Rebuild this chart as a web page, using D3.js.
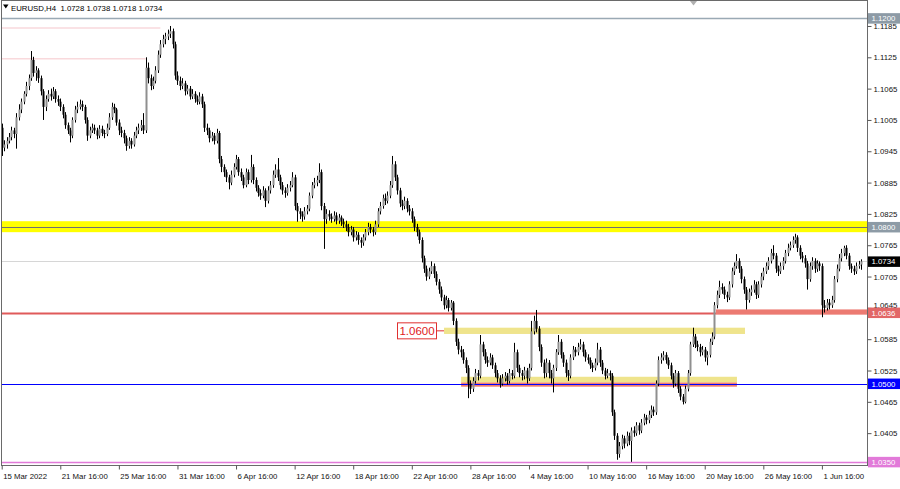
<!DOCTYPE html>
<html><head><meta charset="utf-8">
<script src="https://cdn.jsdelivr.net/npm/d3@7"></script>
<style>
html,body{margin:0;padding:0;background:#fff;}
svg{display:block;font-family:"Liberation Sans",Arial,sans-serif;}
</style></head><body>
<svg id="c" width="900" height="489"></svg>
<script>
// ---- DATA (EURUSD H4) ----
const title = "EURUSD,H4  1.0728 1.0738 1.0718 1.0734";
const open = [1.0990,1.0952,1.0958,1.0965,1.0972,1.0985,1.0978,1.1010,1.1025,1.1040,
1.1055,1.1070,1.1085,1.1120,1.1095,1.1100,1.1085,1.1060,1.1030,1.1045,
1.1055,1.1050,1.1060,1.1045,1.1040,1.1030,1.1015,1.0995,1.0985,1.0975,
1.1005,1.1025,1.1030,1.1035,1.1030,1.1005,1.0975,1.0985,1.0990,1.0985,
1.0975,1.0988,1.0980,1.0978,1.0990,1.1010,1.1030,1.1025,1.1000,1.0985,
1.0980,1.0970,1.0955,1.0965,1.0958,1.0975,1.0985,1.0990,1.0995,1.0985,
1.1105,1.1085,1.1070,1.1080,1.1100,1.1130,1.1150,1.1160,1.1165,1.1170,
1.1175,1.1150,1.1090,1.1080,1.1070,1.1075,1.1060,1.1065,1.1050,1.1055,
1.1045,1.1040,1.1050,1.1035,1.0990,1.0985,1.0970,1.0975,1.0965,1.0980,
1.0930,1.0915,1.0905,1.0895,1.0885,1.0900,1.0915,1.0930,1.0905,1.0895,
1.0880,1.0905,1.0890,1.0915,1.0890,1.0875,1.0865,1.0860,1.0870,1.0850,
1.0870,1.0880,1.0900,1.0910,1.0895,1.0880,1.0870,1.0865,1.0875,1.0880,
1.0895,1.0840,1.0830,1.0825,1.0820,1.0830,1.0835,1.0860,1.0880,1.0885,
1.0890,1.0905,1.0840,1.0815,1.0825,1.0820,1.0815,1.0822,1.0812,1.0818,
1.0810,1.0805,1.0800,1.0790,1.0795,1.0780,1.0785,1.0775,1.0770,1.0780,
1.0790,1.0800,1.0795,1.0790,1.0805,1.0830,1.0840,1.0855,1.0850,1.0860,
1.0880,1.0920,1.0895,1.0870,1.0845,1.0840,1.0850,1.0835,1.0830,1.0815,
1.0800,1.0790,1.0775,1.0740,1.0720,1.0705,1.0715,1.0725,1.0710,1.0695,
1.0680,1.0665,1.0650,1.0660,1.0645,1.0655,1.0620,1.0580,1.0565,1.0560,
1.0545,1.0530,1.0500,1.0490,1.0505,1.0520,1.0515,1.0575,1.0560,1.0545,
1.0540,1.0550,1.0535,1.0520,1.0510,1.0500,1.0510,1.0515,1.0505,1.0520,
1.0515,1.0560,1.0530,1.0520,1.0515,1.0525,1.0510,1.0530,1.0600,1.0620,
1.0605,1.0570,1.0540,1.0520,1.0540,1.0520,1.0510,1.0530,1.0560,1.0580,
1.0555,1.0540,1.0520,1.0515,1.0550,1.0565,1.0560,1.0570,1.0575,1.0560,
1.0550,1.0545,1.0535,1.0530,1.0540,1.0565,1.0540,1.0525,1.0515,1.0520,
1.0515,1.0445,1.0400,1.0365,1.0380,1.0395,1.0385,1.0400,1.0390,1.0410,
1.0405,1.0420,1.0410,1.0425,1.0435,1.0430,1.0440,1.0450,1.0445,1.0500,
1.0545,1.0550,1.0555,1.0545,1.0535,1.0515,1.0500,1.0520,1.0490,1.0475,
1.0465,1.0490,1.0520,1.0575,1.0590,1.0575,1.0570,1.0560,1.0565,1.0550,
1.0555,1.0580,1.0590,1.0650,1.0670,1.0685,1.0680,1.0670,1.0665,1.0690,
1.0715,1.0725,1.0735,1.0720,1.0700,1.0680,1.0660,1.0675,1.0680,1.0690,
1.0670,1.0690,1.0705,1.0715,1.0725,1.0735,1.0750,1.0745,1.0720,1.0715,
1.0725,1.0735,1.0750,1.0760,1.0765,1.0775,1.0780,1.0760,1.0745,1.0740,
1.0730,1.0700,1.0725,1.0735,1.0720,1.0730,1.0725,1.0650,1.0645,1.0655,
1.0650,1.0660,1.0700,1.0720,1.0740,1.0750,1.0760,1.0745,1.0725,1.0720,
1.0715,1.0725,1.0728];
const high = [1.0998,1.0966,1.0972,1.0980,1.0992,1.0990,1.1018,1.1035,1.1046,1.1060,
1.1078,1.1092,1.1137,1.1126,1.1108,1.1104,1.1090,1.1064,1.1052,1.1062,
1.1065,1.1068,1.1064,1.1052,1.1046,1.1035,1.1020,1.1000,1.0990,1.1010,
1.1032,1.1040,1.1044,1.1042,1.1034,1.1010,1.0992,1.0998,1.0996,1.0990,
1.0995,1.0994,1.0986,1.0998,1.1018,1.1038,1.1036,1.1028,1.1006,1.0992,
1.0986,1.0975,1.0972,1.0970,1.0982,1.0992,1.0998,1.1005,1.1018,1.1125,
1.1115,1.1092,1.1088,1.1108,1.1138,1.1158,1.1168,1.1172,1.1178,1.1185,
1.1180,1.1155,1.1098,1.1088,1.1085,1.1080,1.1072,1.1070,1.1064,1.1060,
1.1052,1.1058,1.1055,1.1040,1.0998,1.0990,1.0982,1.0980,1.0988,1.0984,
1.0936,1.0920,1.0910,1.0900,1.0908,1.0922,1.0938,1.0934,1.0912,1.0900,
1.0912,1.0910,1.0938,1.0920,1.0895,1.0880,1.0872,1.0878,1.0874,1.0878,
1.0888,1.0908,1.0920,1.0932,1.0900,1.0886,1.0876,1.0882,1.0888,1.0905,
1.0900,1.0846,1.0836,1.0830,1.0838,1.0842,1.0866,1.0886,1.0894,1.0898,
1.0922,1.0910,1.0846,1.0834,1.0832,1.0826,1.0830,1.0828,1.0825,1.0822,
1.0816,1.0812,1.0806,1.0802,1.0800,1.0792,1.0790,1.0780,1.0786,1.0796,
1.0808,1.0806,1.0800,1.0812,1.0836,1.0848,1.0862,1.0864,1.0868,1.0888,
1.0936,1.0926,1.0900,1.0875,1.0852,1.0858,1.0855,1.0842,1.0836,1.0820,
1.0806,1.0795,1.0780,1.0745,1.0726,1.0722,1.0734,1.0730,1.0715,1.0700,
1.0686,1.0670,1.0668,1.0664,1.0660,1.0658,1.0625,1.0586,1.0572,1.0566,
1.0550,1.0535,1.0506,1.0512,1.0528,1.0526,1.0593,1.0580,1.0566,1.0552,
1.0558,1.0555,1.0540,1.0526,1.0516,1.0518,1.0522,1.0520,1.0528,1.0526,
1.0578,1.0565,1.0536,1.0526,1.0532,1.0530,1.0538,1.0620,1.0630,1.0641,
1.0610,1.0575,1.0546,1.0548,1.0545,1.0526,1.0536,1.0566,1.0593,1.0585,
1.0560,1.0546,1.0526,1.0556,1.0572,1.0570,1.0578,1.0585,1.0580,1.0565,
1.0556,1.0550,1.0540,1.0548,1.0578,1.0570,1.0545,1.0530,1.0528,1.0525,
1.0520,1.0450,1.0405,1.0388,1.0402,1.0400,1.0408,1.0406,1.0416,1.0418,
1.0426,1.0425,1.0432,1.0442,1.0440,1.0448,1.0458,1.0456,1.0506,1.0552,
1.0558,1.0562,1.0560,1.0550,1.0540,1.0520,1.0526,1.0524,1.0495,1.0480,
1.0496,1.0526,1.0580,1.0607,1.0595,1.0582,1.0576,1.0572,1.0570,1.0562,
1.0586,1.0598,1.0656,1.0678,1.0697,1.0692,1.0686,1.0676,1.0696,1.0722,
1.0732,1.0748,1.0740,1.0725,1.0705,1.0685,1.0682,1.0688,1.0698,1.0695,
1.0696,1.0712,1.0722,1.0732,1.0742,1.0758,1.0765,1.0750,1.0726,1.0732,
1.0742,1.0756,1.0768,1.0772,1.0782,1.0787,1.0784,1.0765,1.0752,1.0746,
1.0735,1.0732,1.0742,1.0740,1.0736,1.0734,1.0730,1.0660,1.0662,1.0662,
1.0668,1.0706,1.0728,1.0748,1.0758,1.0764,1.0765,1.0750,1.0730,1.0726,
1.0732,1.0735,1.0738];
const low = [1.0936,1.0945,1.0950,1.0960,1.0966,1.0970,1.0950,1.1004,1.1018,1.1035,
1.1050,1.1062,1.1080,1.1088,1.1080,1.1076,1.1052,1.1005,1.1022,1.1040,
1.1042,1.1045,1.1038,1.1032,1.1022,1.1008,1.0988,1.0978,1.0962,1.0970,
1.1000,1.1018,1.1025,1.1022,1.0998,1.0965,1.0970,1.0980,1.0978,1.0968,
1.0970,1.0974,1.0970,1.0974,1.0986,1.1005,1.1018,1.0994,1.0976,1.0972,
1.0960,1.0946,1.0950,1.0950,1.0954,1.0970,1.0978,1.0984,1.0978,1.0980,
1.1075,1.1062,1.1064,1.1075,1.1095,1.1124,1.1144,1.1150,1.1158,1.1162,
1.1142,1.1082,1.1072,1.1062,1.1064,1.1052,1.1054,1.1044,1.1045,1.1038,
1.1034,1.1035,1.1028,1.0982,1.0976,1.0962,1.0964,1.0958,1.0960,1.0922,
1.0905,1.0896,1.0886,1.0872,1.0880,1.0895,1.0910,1.0898,1.0888,1.0874,
1.0876,1.0882,1.0885,1.0882,1.0868,1.0858,1.0852,1.0855,1.0838,1.0845,
1.0864,1.0875,1.0894,1.0888,1.0872,1.0862,1.0856,1.0860,1.0868,1.0876,
1.0832,1.0810,1.0815,1.0810,1.0814,1.0824,1.0830,1.0855,1.0874,1.0878,
1.0884,1.0832,1.0758,1.0806,1.0812,1.0808,1.0810,1.0805,1.0806,1.0802,
1.0798,1.0792,1.0782,1.0784,1.0772,1.0774,1.0766,1.0760,1.0764,1.0774,
1.0784,1.0788,1.0782,1.0785,1.0800,1.0824,1.0835,1.0842,1.0845,1.0855,
1.0875,1.0888,1.0862,1.0838,1.0832,1.0834,1.0828,1.0822,1.0808,1.0792,
1.0782,1.0768,1.0732,1.0712,1.0697,1.0700,1.0710,1.0702,1.0688,1.0672,
1.0658,1.0642,1.0644,1.0638,1.0640,1.0612,1.0572,1.0556,1.0550,1.0538,
1.0520,1.0472,1.0480,1.0484,1.0500,1.0506,1.0510,1.0552,1.0538,1.0532,
1.0535,1.0528,1.0512,1.0502,1.0492,1.0496,1.0504,1.0498,1.0500,1.0508,
1.0510,1.0522,1.0512,1.0506,1.0508,1.0500,1.0505,1.0525,1.0594,1.0598,
1.0562,1.0532,1.0510,1.0512,1.0510,1.0500,1.0483,1.0524,1.0555,1.0548,
1.0532,1.0512,1.0505,1.0510,1.0545,1.0552,1.0554,1.0565,1.0552,1.0542,
1.0538,1.0528,1.0522,1.0525,1.0535,1.0532,1.0518,1.0508,1.0510,1.0506,
1.0438,1.0392,1.0354,1.0358,1.0374,1.0376,1.0380,1.0382,1.0350,1.0398,
1.0400,1.0402,1.0405,1.0420,1.0422,1.0424,1.0434,1.0438,1.0440,1.0495,
1.0538,1.0544,1.0538,1.0528,1.0508,1.0492,1.0495,1.0482,1.0468,1.0460,
1.0462,1.0485,1.0515,1.0570,1.0568,1.0562,1.0552,1.0554,1.0542,1.0535,
1.0550,1.0574,1.0585,1.0644,1.0664,1.0672,1.0662,1.0656,1.0660,1.0684,
1.0708,1.0720,1.0712,1.0692,1.0672,1.0642,1.0655,1.0668,1.0674,1.0662,
1.0664,1.0684,1.0698,1.0710,1.0718,1.0730,1.0738,1.0712,1.0706,1.0710,
1.0718,1.0730,1.0744,1.0755,1.0760,1.0768,1.0752,1.0738,1.0732,1.0722,
1.0680,1.0695,1.0718,1.0712,1.0714,1.0716,1.0627,1.0636,1.0640,1.0642,
1.0645,1.0655,1.0694,1.0715,1.0734,1.0744,1.0738,1.0718,1.0712,1.0708,
1.0710,1.0720,1.0718];
const close = [1.0952,1.0958,1.0965,1.0972,1.0985,1.0978,1.1010,1.1025,1.1040,1.1055,
1.1070,1.1085,1.1120,1.1095,1.1100,1.1085,1.1060,1.1030,1.1045,1.1055,
1.1050,1.1060,1.1045,1.1040,1.1030,1.1015,1.0995,1.0985,1.0975,1.1005,
1.1025,1.1030,1.1035,1.1030,1.1005,1.0975,1.0985,1.0990,1.0985,1.0975,
1.0988,1.0980,1.0978,1.0990,1.1010,1.1030,1.1025,1.1000,1.0985,1.0980,
1.0970,1.0955,1.0965,1.0958,1.0975,1.0985,1.0990,1.0995,1.0985,1.1105,
1.1085,1.1070,1.1080,1.1100,1.1130,1.1150,1.1160,1.1165,1.1170,1.1175,
1.1150,1.1090,1.1080,1.1070,1.1075,1.1060,1.1065,1.1050,1.1055,1.1045,
1.1040,1.1050,1.1035,1.0990,1.0985,1.0970,1.0975,1.0965,1.0980,1.0930,
1.0915,1.0905,1.0895,1.0885,1.0900,1.0915,1.0930,1.0905,1.0895,1.0880,
1.0905,1.0890,1.0915,1.0890,1.0875,1.0865,1.0860,1.0870,1.0850,1.0870,
1.0880,1.0900,1.0910,1.0895,1.0880,1.0870,1.0865,1.0875,1.0880,1.0895,
1.0840,1.0830,1.0825,1.0820,1.0830,1.0835,1.0860,1.0880,1.0885,1.0890,
1.0905,1.0840,1.0815,1.0825,1.0820,1.0815,1.0822,1.0812,1.0818,1.0810,
1.0805,1.0800,1.0790,1.0795,1.0780,1.0785,1.0775,1.0770,1.0780,1.0790,
1.0800,1.0795,1.0790,1.0805,1.0830,1.0840,1.0855,1.0850,1.0860,1.0880,
1.0920,1.0895,1.0870,1.0845,1.0840,1.0850,1.0835,1.0830,1.0815,1.0800,
1.0790,1.0775,1.0740,1.0720,1.0705,1.0715,1.0725,1.0710,1.0695,1.0680,
1.0665,1.0650,1.0660,1.0645,1.0655,1.0620,1.0580,1.0565,1.0560,1.0545,
1.0530,1.0500,1.0490,1.0505,1.0520,1.0515,1.0575,1.0560,1.0545,1.0540,
1.0550,1.0535,1.0520,1.0510,1.0500,1.0510,1.0515,1.0505,1.0520,1.0515,
1.0560,1.0530,1.0520,1.0515,1.0525,1.0510,1.0530,1.0600,1.0620,1.0605,
1.0570,1.0540,1.0520,1.0540,1.0520,1.0510,1.0530,1.0560,1.0580,1.0555,
1.0540,1.0520,1.0515,1.0550,1.0565,1.0560,1.0570,1.0575,1.0560,1.0550,
1.0545,1.0535,1.0530,1.0540,1.0565,1.0540,1.0525,1.0515,1.0520,1.0515,
1.0445,1.0400,1.0365,1.0380,1.0395,1.0385,1.0400,1.0390,1.0410,1.0405,
1.0420,1.0410,1.0425,1.0435,1.0430,1.0440,1.0450,1.0445,1.0500,1.0545,
1.0550,1.0555,1.0545,1.0535,1.0515,1.0500,1.0520,1.0490,1.0475,1.0465,
1.0490,1.0520,1.0575,1.0590,1.0575,1.0570,1.0560,1.0565,1.0550,1.0555,
1.0580,1.0590,1.0650,1.0670,1.0685,1.0680,1.0670,1.0665,1.0690,1.0715,
1.0725,1.0735,1.0720,1.0700,1.0680,1.0660,1.0675,1.0680,1.0690,1.0670,
1.0690,1.0705,1.0715,1.0725,1.0735,1.0750,1.0745,1.0720,1.0715,1.0725,
1.0735,1.0750,1.0760,1.0765,1.0775,1.0780,1.0760,1.0745,1.0740,1.0730,
1.0700,1.0725,1.0735,1.0720,1.0730,1.0725,1.0650,1.0645,1.0655,1.0650,
1.0660,1.0700,1.0720,1.0740,1.0750,1.0760,1.0745,1.0725,1.0720,1.0715,
1.0725,1.0728,1.0734];

const xTickIndex = [0,24,48,72,96,120,144,168,192,216,240,264,288,312,336];
const xTickLabels = ["15 Mar 2022","21 Mar 16:00","25 Mar 16:00","31 Mar 16:00","6 Apr 16:00",
  "12 Apr 16:00","18 Apr 16:00","22 Apr 16:00","28 Apr 16:00","4 May 16:00","10 May 16:00",
  "16 May 16:00","20 May 16:00","26 May 16:00","1 Jun 16:00"];
const yTickValues = [1.1185,1.1125,1.1065,1.1005,1.0945,1.0885,1.0825,1.0765,1.0705,1.0645,
  1.0585,1.0525,1.0465,1.0405,1.0345];

// horizontal levels and their price tags
const levelPrices = [1.1200, 1.0800, 1.0734, 1.0636, 1.0500, 1.0350];
const levelTags   = ["1.1200","1.0800","1.0734","1.0636","1.0500","1.0350"];
const zoneLabel = "1.0600";

// ---- CHART ----
const svg = d3.select("#c");
const FONT = "7.8px";
const plotLeft = 1.5, plotRight = 867.5, plotBottom = 465;
const y = d3.scaleLinear().domain([1.034397, 1.123477]).range([465, 0]);
const x = d3.scaleLinear().domain([0, 336]).range([1.7, 821.9]);

svg.append("rect").attr("width",900).attr("height",489).attr("fill","#fff");

const bg = svg.append("g");
// faint pink old levels
bg.append("line").attr("x1",plotLeft).attr("x2",x(65)).attr("y1",y(1.1181)).attr("y2",y(1.1181))
  .attr("stroke","#f9d9dc").attr("stroke-width",1.5);
bg.append("line").attr("x1",plotLeft).attr("x2",x(59)).attr("y1",y(1.1122)).attr("y2",y(1.1122))
  .attr("stroke","#f9d9dc").attr("stroke-width",1.5);
// yellow band 1.0800
bg.append("rect").attr("x",plotLeft).attr("width",plotRight-plotLeft)
  .attr("y",y(1.0811)).attr("height",y(1.0790)-y(1.0811)).attr("fill","#ffff00");
// khaki zones
bg.append("rect").attr("x",x(181.2)).attr("width",x(304.5)-x(181.2))
  .attr("y",y(1.0607)).attr("height",y(1.0595)-y(1.0607)).attr("fill","#efe48c");
bg.append("rect").attr("x",x(188.2)).attr("width",x(301.2)-x(188.2))
  .attr("y",y(1.0513)).attr("height",y(1.0502)-y(1.0513)).attr("fill","#efe48c");
bg.append("rect").attr("x",x(188.2)).attr("width",x(301.2)-x(188.2))
  .attr("y",y(1.0502)).attr("height",y(1.0494)-y(1.0502)).attr("fill","#ef7b6e");
// red band on the right
bg.append("rect").attr("x",x(292.6)).attr("width",plotRight-x(292.6))
  .attr("y",y(1.0642)).attr("height",y(1.0632)-y(1.0642)).attr("fill","#ec7a72");

function hline(p, x1, x2, color, w){
  const yy = Math.round(y(p)) + 0.5;
  bg.append("line").attr("x1",x1).attr("x2",x2).attr("y1",yy).attr("y2",yy)
    .attr("stroke",color).attr("stroke-width",w);
}
hline(1.1200, plotLeft, plotRight, "#9aa9b4", 1.3);
hline(1.0800, plotLeft, plotRight, "#707070", 1);
hline(1.0734, plotLeft, plotRight, "#d6d6d6", 1);
hline(1.0636, plotLeft, x(292.6), "#e05a5a", 2);
hline(1.0500, plotLeft, plotRight, "#0000ff", 1.2);
hline(1.0350, plotLeft, plotRight, "#e27ad9", 1.5);

// candles
const n = Math.min(open.length, high.length, low.length, close.length);
const bars = d3.range(n).map(i => ({i, o:open[i], h:high[i], l:low[i], c:close[i]}));
const cg = svg.append("g");
cg.selectAll("line.w").data(bars).join("line").attr("class","w")
  .attr("x1",d=>Math.round(x(d.i))+0.5).attr("x2",d=>Math.round(x(d.i))+0.5)
  .attr("y1",d=>y(d.h)).attr("y2",d=>y(d.l)).attr("stroke","#000").attr("stroke-width",1);
cg.selectAll("rect.b").data(bars).join("rect").attr("class","b")
  .attr("x",d=>Math.round(x(d.i))-0.5).attr("width",2)
  .attr("y",d=>y(Math.max(d.o,d.c)))
  .attr("height",d=>Math.max(1, Math.abs(y(d.o)-y(d.c))))
  .attr("fill",d=> d.c >= d.o ? "#8f8f8f" : "#000");

// 1.0600 label box
const lg = svg.append("g");
const ly = y(1.0601);
lg.append("line").attr("x1",436.5).attr("x2",x(181.2)).attr("y1",ly).attr("y2",ly)
  .attr("stroke","#e03030").attr("stroke-width",1);
lg.append("rect").attr("x",397.5).attr("y",ly-8).attr("width",39).attr("height",16)
  .attr("fill","#fff").attr("stroke","#e03030").attr("stroke-width",1);
lg.append("text").attr("x",417).attr("y",ly+4.2).attr("text-anchor","middle")
  .attr("font-size","11.5px").attr("fill","#e02020").text(zoneLabel);

// frame
svg.append("rect").attr("x",plotLeft).attr("y",0.5).attr("width",plotRight-plotLeft)
  .attr("height",plotBottom).attr("fill","none").attr("stroke","#6a6a6a").attr("stroke-width",1);

// axes
const yAxis = d3.axisRight(y).tickValues(yTickValues)
  .tickFormat(d => Math.abs(d-1.0345) < 1e-6 ? "" : d3.format(".4f")(d)).tickSize(4).tickPadding(2);
const ya = svg.append("g").attr("transform",`translate(${plotRight},0)`).call(yAxis);
ya.select(".domain").remove();
ya.selectAll("line").attr("stroke","#555");
ya.selectAll("text").attr("font-size",FONT).attr("fill","#111").attr("font-family","Liberation Sans, Arial, sans-serif");
// 1.0645 label sits just above the 1.0636 tag (partly hidden in the original)
ya.selectAll(".tick").filter(d => Math.abs(d-1.0645) < 1e-6).select("text").attr("dy","-0.05em");

const xAxis = d3.axisBottom(x).tickValues(xTickIndex).tickFormat((d,i)=>xTickLabels[i]).tickSize(4).tickPadding(4);
const xa = svg.append("g").attr("transform",`translate(0,${plotBottom+0.5})`).call(xAxis);
xa.select(".domain").remove();
xa.selectAll("line").attr("stroke","#555");
xa.selectAll("text").attr("font-size",FONT).attr("fill","#111").attr("text-anchor","start").attr("x",1)
  .attr("font-family","Liberation Sans, Arial, sans-serif");

// price tags
const tagFill = ["#8d9ba6","#8d9ba6","#000000","#e26767","#0000ff","#e27ad9"];
const tg = svg.append("g");
levelPrices.forEach((p,k)=>{
  const yy = y(p);
  tg.append("rect").attr("x",868).attr("y",yy-5).attr("width",32).attr("height",10.5).attr("fill",tagFill[k]);
  tg.append("text").attr("x",871.5).attr("y",yy+3).attr("font-size",FONT).attr("fill","#fff").text(levelTags[k]);
});

// title + markers
svg.append("path").attr("d","M3,4.5 L8.5,4.5 L5.75,8.5 Z").attr("fill","#000");
svg.append("text").attr("x",11).attr("y",10.5).attr("font-size",FONT).attr("fill","#000")
  .attr("xml:space","preserve").style("white-space","pre").text(title);
svg.append("path").attr("d","M690,1 L697,1 L693.5,5.5 Z").attr("fill","#b0b0b0");
</script>
</body></html>
